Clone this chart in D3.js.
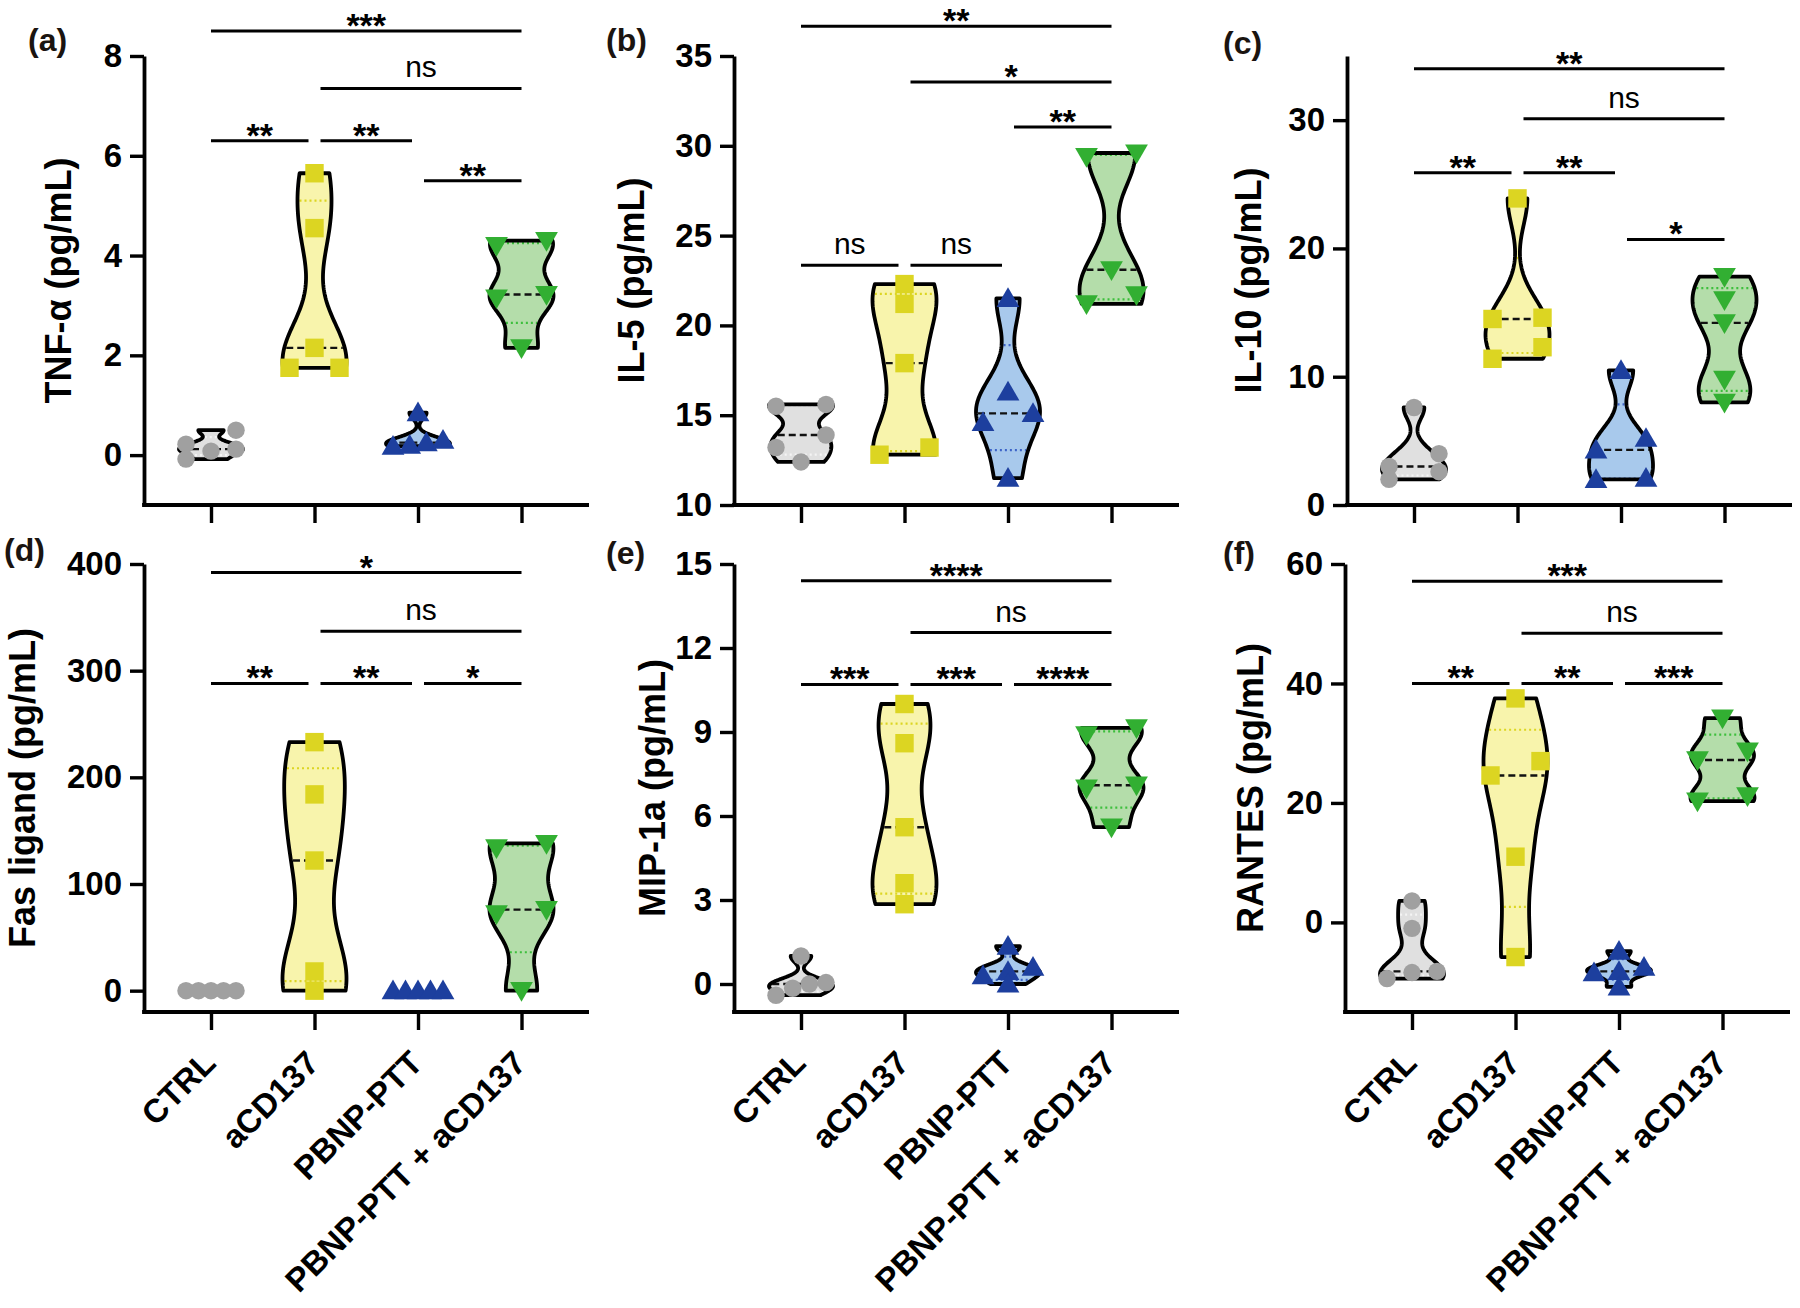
<!DOCTYPE html>
<html><head><meta charset="utf-8">
<script src="https://cdn.jsdelivr.net/npm/d3@7"></script>
<style>
body{margin:0;background:#fff;}
svg{display:block;font-family:"Liberation Sans",Arial,sans-serif;}
</style>
</head><body>
<svg id="chart" width="1800" height="1308"></svg>
<script>
// ---------------- DATA ----------------
const categories = ["CTRL", "aCD137", "PBNP-PTT", "PBNP-PTT + aCD137"];

const tnfValues    = [[0.5, 0.22, 0.12, 0.08, -0.08], [5.65, 4.55, 2.15, 1.75, 1.75], [0.85, 0.3, 0.25, 0.2, 0.18], [4.3, 4.2, 3.22, 3.15, 2.15]];
const il5Values    = [[15.6, 15.5, 13.9, 13.2, 12.4], [22.3, 21.2, 17.9, 13.2, 12.8], [21.5, 16.3, 15.1, 14.6, 11.5], [29.6, 29.4, 23.1, 21.7, 21.2]];
const il10Values   = [[7.6, 4.0, 3.0, 2.6, 2.0], [23.9, 14.6, 14.5, 12.3, 11.4], [10.5, 5.2, 4.3, 2.1, 2.0], [17.8, 16.0, 14.2, 9.8, 8.0]];
const fasValues    = [[0, 0, 0, 0, 0], [233, 184, 122, 18, 0], [0, 0, 0, 0, 0], [138, 134, 76, 72, 0]];
const mipValues    = [[1.0, 0.05, 0.0, -0.15, -0.4], [10.0, 8.6, 5.6, 3.6, 2.85], [1.35, 0.6, 0.45, 0.3, 0.0], [9.15, 8.9, 7.1, 7.0, 5.6]];
const rantesValues = [[3.6, -1.0, -8.2, -8.4, -9.4], [37.5, 27.0, 24.6, 11.0, -5.8], [-4.8, -7.5, -8.2, -8.4, -10.8], [34.2, 28.7, 27.2, 21.2, 20.3]];

const tnfTicks = [0, 2, 4, 6, 8];
const il5Ticks = [10, 15, 20, 25, 30, 35];
const il10Ticks = [0, 10, 20, 30];
const fasTicks = [0, 100, 200, 300, 400];
const mipTicks = [0, 3, 6, 9, 12, 15];
const rantesTicks = [0, 20, 40, 60];

const tnfDomain = [-1, 8];
const il5Domain = [10, 35];
const il10Domain = [0, 35];
const fasDomain = [-20, 400];
const mipDomain = [-1, 15];
const rantesDomain = [-15, 60];

const panelLetters = ["(a)", "(b)", "(c)", "(d)", "(e)", "(f)"];
const panelTitles = ["TNF-\u03b1 (pg/mL)", "IL-5 (pg/mL)", "IL-10 (pg/mL)", "Fas ligand (pg/mL)", "MIP-1a (pg/mL)", "RANTES (pg/mL)"];

// significance comparisons: [group A, group B, level (data units), label]
const tnfSig = [[0, 3, 8.5, "***"], [1, 3, 7.35, "ns"], [0, 1, 6.3, "**"], [1, 2, 6.3, "**"], [2, 3, 5.5, "**"]];
const il5Sig = [[0, 3, 36.65, "**"], [1, 3, 33.55, "*"], [2, 3, 31.05, "**"], [0, 1, 23.35, "ns"], [1, 2, 23.35, "ns"]];
const il10Sig = [[0, 3, 34.0, "**"], [1, 3, 30.1, "ns"], [0, 1, 25.9, "**"], [1, 2, 25.9, "**"], [2, 3, 20.7, "*"]];
const fasSig = [[0, 3, 392, "*"], [1, 3, 337, "ns"], [0, 1, 288, "**"], [1, 2, 288, "**"], [2, 3, 288, "*"]];
const mipSig = [[0, 3, 14.4, "****"], [1, 3, 12.55, "ns"], [0, 1, 10.7, "***"], [1, 2, 10.7, "***"], [2, 3, 10.7, "****"]];
const rantesSig = [[0, 3, 57.1, "***"], [1, 3, 48.4, "ns"], [0, 1, 40, "**"], [1, 2, 40, "**"], [2, 3, 40, "***"]];

// ---------------- STYLE / LAYOUT ----------------
const groupStyle = [
  {fill: "#e0e0e0", point: "#a0a0a0", quart: "#f4f4f4", shape: "circle"},
  {fill: "#f8f4ac", point: "#dcd522", quart: "#dcd522", shape: "square"},
  {fill: "#a8c9ec", point: "#1d3f9e", quart: "#3d64c8", shape: "up"},
  {fill: "#b4ddaa", point: "#32af32", quart: "#3cbf3c", shape: "down"}
];

const panels = [
  {vals: tnfValues, ticks: tnfTicks, domain: tnfDomain, sig: tnfSig, ax: 144, top: 56, bot: 505, titleOff: 73, lx: 28, ly: 51, labels: false},
  {vals: il5Values, ticks: il5Ticks, domain: il5Domain, sig: il5Sig, ax: 734, top: 56, bot: 505, titleOff: 90, lx: 606, ly: 51, labels: false},
  {vals: il10Values, ticks: il10Ticks, domain: il10Domain, sig: il10Sig, ax: 1347, top: 56, bot: 505, titleOff: 86, lx: 1223, ly: 54, labels: false},
  {vals: fasValues, ticks: fasTicks, domain: fasDomain, sig: fasSig, ax: 144, top: 564, bot: 1012, titleOff: 109, lx: 4, ly: 561, labels: true},
  {vals: mipValues, ticks: mipTicks, domain: mipDomain, sig: mipSig, ax: 734, top: 564, bot: 1012, titleOff: 69, lx: 606, ly: 564, labels: true},
  {vals: rantesValues, ticks: rantesTicks, domain: rantesDomain, sig: rantesSig, ax: 1345, top: 564, bot: 1012, titleOff: 82, lx: 1223, ly: 564, labels: true}
];

const svg = d3.select("#chart");

function quant(vals, p) {
  const s = vals.slice().sort((a, b) => a - b);
  const n = s.length;
  let pos = (n + 1) * p - 1;
  pos = Math.max(0, Math.min(n - 1, pos));
  const lo = Math.floor(pos), hi = Math.ceil(pos);
  return s[lo] + (s[hi] - s[lo]) * (pos - lo);
}
function bandwidth(vals) {
  const sd = d3.deviation(vals);
  const iqr = quant(vals, 0.75) - quant(vals, 0.25);
  let s = Math.min(sd, iqr / 1.34);
  if (!(s > 0)) s = sd;
  return 0.9 * s * Math.pow(vals.length, -0.2) * 0.65;
}
function kde(vals, h) {
  return v => d3.sum(vals, xi => Math.exp(-0.5 * ((v - xi) / h) ** 2));
}
function swarm(vals, y, cx) {
  const idx = vals.map(v => ({v, py: y(v)})).sort((a, b) => a.py - b.py);
  const rows = []; let cur = null;
  idx.forEach(p => {
    if (cur && p.py - cur[0].py <= 15) cur.push(p);
    else { cur = [p]; rows.push(cur); }
  });
  const out = [];
  rows.forEach(r => {
    r.sort((a, b) => a.v - b.v);
    const k = r.length;
    r.forEach((p, j) => {
      const off = k === 1 ? 0 : -25 + 50 * j / (k - 1);
      out.push({v: p.v, x: cx + off, y: p.py});
    });
  });
  return out;
}

panels.forEach((P, pi) => {
  const g = svg.append("g");
  const y = d3.scaleLinear().domain(P.domain).range([P.bot, P.top]);
  const x = d3.scalePoint().domain(categories).range([P.ax + 67, P.ax + 67 + 310.5]);

  // violins
  P.vals.forEach((vals, gi) => {
    const st = groupStyle[gi];
    const cx = x(categories[gi]);
    const mn = d3.min(vals), mx = d3.max(vals);
    if (mx - mn > 0) {
      const h = bandwidth(vals);
      const f = kde(vals, h);
      const grid = d3.range(0, 101).map(i => mn + (mx - mn) * i / 100);
      const dens = grid.map(f);
      const dmax = d3.max(dens);
      const wScale = d3.scaleLinear().domain([0, dmax]).range([0, 32]);
      const pts = grid.map((v, i) => ({v, w: wScale(dens[i])}));
      const area = d3.area().x0(d => cx - d.w).x1(d => cx + d.w).y(d => y(d.v)).curve(d3.curveLinear);
      g.append("path").attr("d", area(pts)).attr("fill", st.fill).attr("stroke", "none");
      const lines = [
        {v: quant(vals, 0.25), c: st.quart, dash: "2,3", w: 2.2},
        {v: quant(vals, 0.75), c: st.quart, dash: "2,3", w: 2.2},
        {v: quant(vals, 0.5), c: "#111", dash: "7,4", w: 2.4}
      ];
      lines.forEach(L => {
        const hw = wScale(f(L.v));
        g.append("line").attr("x1", cx - hw + 2).attr("x2", cx + hw - 2)
          .attr("y1", y(L.v)).attr("y2", y(L.v))
          .attr("stroke", L.c).attr("stroke-width", L.w).attr("stroke-dasharray", L.dash);
      });
      const left = grid.map((v, i) => [cx - wScale(dens[i]), y(v)]);
      const right = grid.map((v, i) => [cx + wScale(dens[i]), y(v)]).reverse();
      g.append("path").attr("d", d3.line()(left.concat(right)) + "Z")
        .attr("fill", "none").attr("stroke", "#000").attr("stroke-width", 3.8).attr("stroke-linejoin", "round");
    }
  });

  // points
  P.vals.forEach((vals, gi) => {
    const st = groupStyle[gi];
    const cx = x(categories[gi]);
    const pts = swarm(vals, y, cx);
    let sym, rot = 0;
    if (st.shape === "circle") sym = d3.symbol().type(d3.symbolCircle).size(240);
    else if (st.shape === "square") sym = d3.symbol().type(d3.symbolSquare).size(340);
    else { sym = d3.symbol().type(d3.symbolTriangle).size(225); if (st.shape === "down") rot = 180; }
    g.selectAll(null).data(pts).enter().append("path")
      .attr("d", sym)
      .attr("transform", d => {
        const dy = st.shape === "up" ? 2 : (st.shape === "down" ? -2 : 0);
        return `translate(${d.x},${d.y + dy}) rotate(${rot})`;
      })
      .attr("fill", st.point);
  });

  // y axis
  const yAxis = d3.axisLeft(y).tickValues(P.ticks).tickSize(14).tickSizeOuter(0).tickPadding(8).tickFormat(d3.format("d"));
  const ya = g.append("g").attr("transform", `translate(${P.ax},0)`).call(yAxis);
  ya.select(".domain").attr("stroke", "#000").attr("stroke-width", 3.8);
  ya.selectAll(".tick line").attr("stroke", "#000").attr("stroke-width", 3.4);
  ya.selectAll(".tick text").attr("fill", "#000").style("font-size", "33px").style("font-weight", "bold")
    .style("font-family", '"Liberation Sans", Arial, sans-serif');

  // x axis
  g.append("line").attr("x1", P.ax - 1.9).attr("x2", P.ax + 445).attr("y1", P.bot).attr("y2", P.bot)
    .attr("stroke", "#000").attr("stroke-width", 3.8);
  const xAxis = d3.axisBottom(x).tickSize(18).tickSizeOuter(0).tickFormat("");
  const xa = g.append("g").attr("transform", `translate(0,${P.bot})`).call(xAxis);
  xa.select(".domain").remove();
  xa.selectAll(".tick line").attr("stroke", "#000").attr("stroke-width", 3.4);
  if (P.labels) {
    xa.selectAll(".tick").append("text")
      .attr("transform", "translate(6,53) rotate(-45)")
      .attr("text-anchor", "end").attr("fill", "#000")
      .style("font-size", "33px").style("font-weight", "bold")
      .text(d => d);
  }

  // y title
  g.append("text")
    .attr("transform", `translate(${P.ax - P.titleOff},${(P.top + P.bot) / 2}) rotate(-90)`)
    .attr("text-anchor", "middle").attr("fill", "#000")
    .style("font-size", "36px").style("font-weight", "bold")
    .text(panelTitles[pi]);

  // panel letter
  g.append("text").attr("x", P.lx).attr("y", P.ly).attr("fill", "#1a1410")
    .style("font-size", "32px").style("font-weight", "bold").text(panelLetters[pi]);

  // significance bars
  P.sig.forEach(([a, b, lvl, lab]) => {
    const x1 = x(categories[a]) + (a > 0 ? 6 : 0);
    const x2 = x(categories[b]) - (b < 3 ? 6 : 0);
    const yy = y(lvl);
    g.append("line").attr("x1", x1).attr("x2", x2).attr("y1", yy).attr("y2", yy)
      .attr("stroke", "#000").attr("stroke-width", 3);
    const isNs = lab === "ns";
    g.append("text").attr("x", (x1 + x2) / 2).attr("y", isNs ? yy - 11 : yy + 6)
      .attr("text-anchor", "middle").attr("fill", "#000")
      .style("font-size", isNs ? "30px" : "34px").style("font-weight", isNs ? "normal" : "bold")
      .text(lab);
  });
});
</script>
</body></html>
